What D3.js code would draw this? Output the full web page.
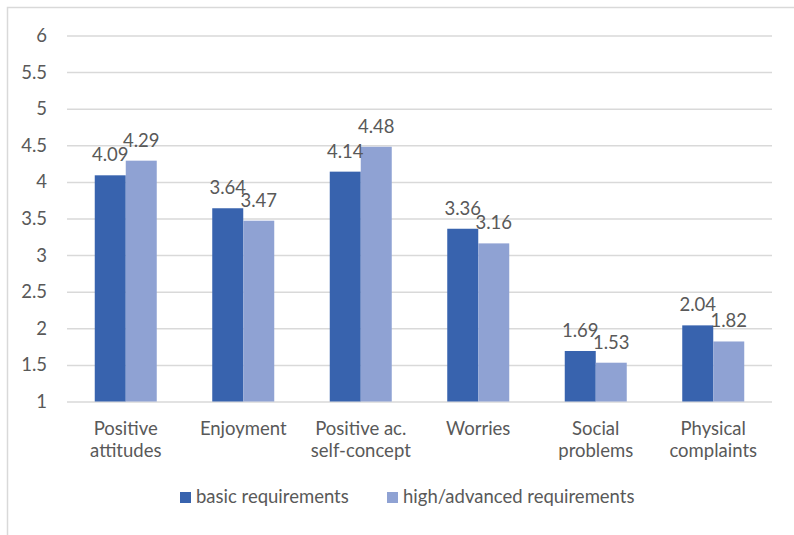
<!DOCTYPE html>
<html>
<head>
<meta charset="utf-8">
<script src="https://cdn.jsdelivr.net/npm/d3@7"></script>
<style>
  html, body { margin: 0; padding: 0; background: #fff; }
  svg { display: block; }
  text { font-family: Lato, "Open Sans", sans-serif; fill: #595959; }
</style>
</head>
<body>
<svg id="chart" width="794" height="535"></svg>
<script>
// Mean scale scores by requirement level
const categories = [
  ["Positive", "attitudes"],
  ["Enjoyment"],
  ["Positive ac.", "self-concept"],
  ["Worries"],
  ["Social", "problems"],
  ["Physical", "complaints"]
];
const seriesNames = ["basic requirements", "high/advanced requirements"];
const basicValues = [4.09, 3.64, 4.14, 3.36, 1.69, 2.04];
const highValues = [4.29, 3.47, 4.48, 3.16, 1.53, 1.82];
const yTicks = [1, 1.5, 2, 2.5, 3, 3.5, 4, 4.5, 5, 5.5, 6];
const colors = ["#3863ae", "#8fa2d3"];
const fontSize = 18.5;

const svg = d3.select("#chart");

// outer chart frame
svg.append("rect")
  .attr("x", 7.5).attr("y", 7.5)
  .attr("width", 800).attr("height", 540)
  .attr("fill", "none").attr("stroke", "#d9d9d9").attr("stroke-width", 1.5);

const plot = { left: 67, right: 772, top: 35.5, bottom: 401.5 };
const keys = categories.map(c => c.join(" "));

const y = d3.scaleLinear().domain([1, 6]).range([plot.bottom, plot.top]);
const x0 = d3.scaleBand().domain(keys).range([plot.left, plot.right]).padding(0);
const groupWidth = 62;
const x1 = d3.scaleBand().domain(seriesNames).range([0, groupWidth]).padding(0);
const groupOffset = (x0.bandwidth() - groupWidth) / 2;

// horizontal gridlines (the line at 1 doubles as the category axis)
const yAxis = d3.axisLeft(y)
  .tickValues(yTicks)
  .tickSize(-(plot.right - plot.left))
  .tickPadding(20)
  .tickFormat(d3.format("~g"));

const gy = svg.append("g")
  .attr("transform", `translate(${plot.left},0)`)
  .call(yAxis);
gy.select(".domain").remove();
gy.selectAll(".tick line").attr("stroke", "#d9d9d9").attr("stroke-width", 1.5);
gy.selectAll(".tick text")
  .attr("font-size", fontSize)
  .attr("fill", "#595959")
  .style("font-family", "Lato, 'Open Sans', sans-serif");

// bars
const rows = keys.map((k, i) => ({ key: k, values: [basicValues[i], highValues[i]] }));

const groups = svg.append("g").selectAll("g")
  .data(rows)
  .join("g")
  .attr("transform", d => `translate(${x0(d.key) + groupOffset},0)`);

groups.selectAll("rect")
  .data(d => d.values.map((v, j) => ({ series: seriesNames[j], value: v, j })))
  .join("rect")
  .attr("x", d => x1(d.series))
  .attr("y", d => y(d.value))
  .attr("width", x1.bandwidth())
  .attr("height", d => y(1) - y(d.value))
  .attr("fill", d => colors[d.j]);

// value labels above each bar
groups.selectAll("text.val")
  .data(d => d.values.map((v, j) => ({ series: seriesNames[j], value: v })))
  .join("text")
  .attr("class", "val")
  .attr("x", d => x1(d.series) + x1.bandwidth() / 2)
  .attr("y", d => y(d.value) - 14)
  .attr("text-anchor", "middle")
  .attr("font-size", fontSize)
  .text(d => d3.format(".2f")(d.value));

// category labels
const catLabels = svg.append("g").selectAll("text")
  .data(categories)
  .join("text")
  .attr("x", (d, i) => x0(keys[i]) + x0.bandwidth() / 2)
  .attr("y", 435)
  .attr("text-anchor", "middle")
  .attr("font-size", fontSize);
catLabels.selectAll("tspan")
  .data(d => d)
  .join("tspan")
  .attr("x", function () { return d3.select(this.parentNode).attr("x"); })
  .attr("dy", (d, i) => i === 0 ? 0 : 21.5)
  .text(d => d);

// legend
const legendItems = [
  { name: seriesNames[0], color: colors[0], x: 180 },
  { name: seriesNames[1], color: colors[1], x: 387 }
];
const legend = svg.append("g").selectAll("g")
  .data(legendItems)
  .join("g")
  .attr("transform", d => `translate(${d.x},492)`);
legend.append("rect")
  .attr("width", 11).attr("height", 11)
  .attr("fill", d => d.color);
legend.append("text")
  .attr("x", 16).attr("y", 11)
  .attr("font-size", fontSize)
  .text(d => d.name);
</script>
</body>
</html>
